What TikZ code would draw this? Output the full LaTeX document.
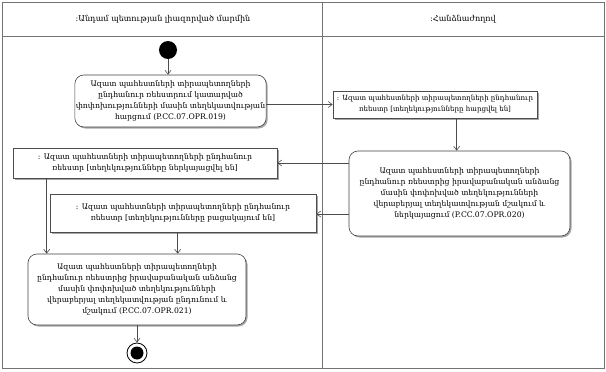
\documentclass[tikz,border=0pt]{standalone}
\usepackage{fontspec}
\setmainfont{DejaVu Serif}
\usetikzlibrary{shadows,arrows.meta,calc}
\begin{document}
\begin{tikzpicture}[x=1pt,y=-1pt,
  txt/.style={font=\fontsize{7.7}{11}\selectfont, align=center, inner sep=1pt},
  act/.style={txt, draw=black!75, line width=0.6pt, rounded corners=9pt, fill=white,
    drop shadow={shadow xshift=1.5pt, shadow yshift=-1.5pt, fill=black!35, opacity=1}},
  obj/.style={txt, draw=black!70, line width=0.6pt, fill=white,
    drop shadow={shadow xshift=1.5pt, shadow yshift=-1.5pt, fill=black!35, opacity=1}},
  conn/.style={draw=black!70, line width=0.6pt, -{Straight Barb[length=4pt,width=6pt]}},
  frame/.style={draw=black!55, line width=1pt},
  hdr/.style={font=\fontsize{8.1}{10}\selectfont}
]
\useasboundingbox (0,0) rectangle (606,372);
% swimlane frame
\draw[frame] (2,2) rectangle (604,368);
\draw[frame] (2,36) -- (604,36);
\draw[frame] (322,2) -- (322,368);
\node[hdr] (lane1) at (163,19) {:Անդամ պետության լիազորված մարմին};
\node[hdr] (lane2) at (463,19) {:Հանձնաժողով};

% start
\node[circle, fill=black, minimum size=18pt, inner sep=0pt] (start) at (168,50) {};

% activities and objects
\node[act, minimum width=191pt, minimum height=52pt] (b1) at (170.5,101)
 {Ազատ պահեստների տիրապետողների\\ընդհանուր ռեեստրում կատարված\\փոփոխությունների մասին տեղեկատվության\\հարցում (P.CC.07.OPR.019)};
\node[obj, font=\fontsize{7.05}{11}\selectfont, inner sep=0.5pt, minimum width=204pt, minimum height=27pt] (b2) at (435,104.5)
 {: Ազատ պահեստների տիրապետողների ընդհանուր\\ռեեստր [տեղեկությունները հարցվել են]};
\node[act, minimum width=221pt, minimum height=85pt] (b4) at (459.5,193.5)
 {Ազատ պահեստների տիրապետողների\\ընդհանուր ռեեստրից իրավաբանական անձանց\\մասին փոփոխված տեղեկությունների\\վերաբերյալ տեղեկատվության մշակում և\\ներկայացում (P.CC.07.OPR.020)};
\node[obj, minimum width=264pt, minimum height=30pt] (b3) at (145,163)
 {: Ազատ պահեստների տիրապետողների ընդհանուր\\ռեեստր [տեղեկությունները ներկայացվել են]};
\node[obj, minimum width=266pt, minimum height=38pt] (b5) at (183,213)
 {: Ազատ պահեստների տիրապետողների ընդհանուր\\ռեեստր [տեղեկությունները բացակայում են]};
\node[act, minimum width=218pt, minimum height=71pt] (b6) at (137,289.5)
 {Ազատ պահեստների տիրապետողների\\ընդհանուր ռեեստրից իրավաբանական անձանց\\մասին փոփոխված տեղեկությունների\\վերաբերյալ տեղեկատվության ընդունում և\\մշակում (P.CC.07.OPR.021)};

% end
\node[circle, draw=black, line width=0.8pt, fill=white, minimum size=20pt, inner sep=0pt] (endn) at (137,353) {};
\node[circle, fill=black, minimum size=13pt, inner sep=0pt] (endin) at (endn.center) {};

% connectors
\draw[conn] (start.south) -- (start.south |- b1.north);
\draw[conn] (b2.west -| b1.east) -- (b2.west);
\coordinate (c24) at ($(b4.north west)+(108,0)$);
\draw[conn] (c24 |- b2.south) -- (c24);
\draw[conn] (b3.east -| b4.west) -- (b3.east);
\coordinate (c45) at ($(b5.east)+(0,1)$);
\draw[conn] (c45 -| b4.west) -- (c45);
\coordinate (c36) at ($(b3.south west)+(34,0)$);
\draw[conn] (c36) -- (c36 |- b6.north);
\coordinate (c56) at ($(b5.south west)+(128,0)$);
\draw[conn] (c56) -- (c56 |- b6.north);
\draw[conn] (b6.south) -- (endn.north);
\end{tikzpicture}
\end{document}
